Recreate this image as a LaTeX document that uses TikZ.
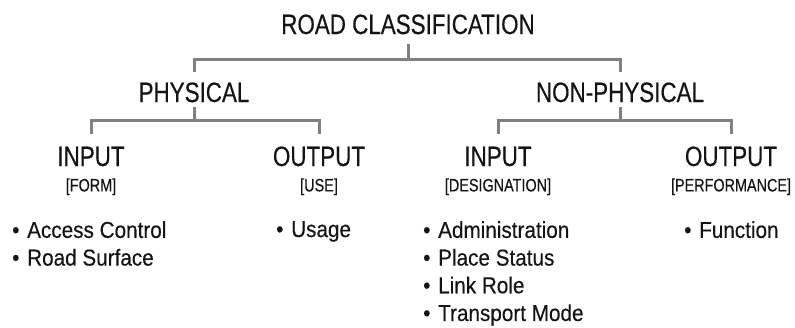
\documentclass[tikz,border=0pt]{standalone}
\usepackage{fontspec}
\newfontfamily\headfont[FakeStretch=0.8, FakeBold=0.3]{Liberation Sans}
\newfontfamily\itemfont[FakeStretch=0.9, FakeBold=0.3]{Liberation Sans}
\usepackage{tikz}
\usetikzlibrary{positioning}

\definecolor{branchgray}{RGB}{128,128,128}
\definecolor{inkblack}{RGB}{20,20,20}

\tikzset{
  heading/.style={text=inkblack, inner sep=0pt, text height=20pt, text depth=0pt,
    font=\headfont\fontsize{28}{30}\selectfont},
  sublabel/.style={text=inkblack, inner sep=0pt, text height=13pt, text depth=4pt,
    font=\headfont\fontsize{18}{20}\selectfont},
  itemlist/.style={text=inkblack, inner sep=0pt, align=left, anchor=north west,
    font=\itemfont\fontsize{23}{27.7}\selectfont},
  branch/.style={draw=branchgray, line width=3pt}
}
\newcommand{\bul}{\makebox[15pt][l]{•}}

\begin{document}
\begin{tikzpicture}[x=1pt, y=-1pt]
        \useasboundingbox (0,0) rectangle (795,327);
        \node[heading, anchor=base] (root) at (408,34) {ROAD CLASSIFICATION};
        \node[heading, anchor=base] (phys) at (194,102) {PHYSICAL};
        \node[heading, anchor=base] (nonphys) at (620,102) {NON-PHYSICAL};
        \node[heading, anchor=base] (physin) at (91,166) {INPUT};
        \node[heading, anchor=base] (physout) at (319,166) {OUTPUT};
        \node[heading, anchor=base] (npin) at (498,166) {INPUT};
        \node[heading, anchor=base] (npout) at (731,166) {OUTPUT};
        \node[sublabel, below=12pt of physin] (form) {[FORM]};
        \node[sublabel, below=12pt of physout] (use) {[USE]};
        \node[sublabel, below=12pt of npin] (desig) {[DESIGNATION]};
        \node[sublabel, below=12pt of npout] (perf) {[PERFORMANCE]};
        \node[itemlist] (formlist) at (12,221) {\bul Access Control\\\bul Road Surface};
        \node[itemlist] (uselist) at (276,221) {\bul Usage};
        \node[itemlist] (desiglist) at (423,221) {\bul Administration\\\bul Place Status\\\bul Link Role\\\bul Transport Mode};
        \node[itemlist] (perflist) at (684,221) {\bul Function};
        \coordinate (rootjoin) at ([yshift=-25pt]root.base);
        \coordinate (physjoin) at ([yshift=-18pt]phys.base);
        \coordinate (npjoin) at ([yshift=-18pt]nonphys.base);
        \draw[branch, shorten <=10pt] (root.south) -- (rootjoin);
        \draw[branch, shorten <=10pt, shorten >=10pt] (phys.north) |- (rootjoin) -| (nonphys.north);
        \draw[branch, shorten <=5pt] (phys.south) -- (physjoin);
        \draw[branch, shorten <=12pt, shorten >=12pt] (physin.north) |- (physjoin) -| (physout.north);
        \draw[branch, shorten <=5pt] (nonphys.south) -- (npjoin);
        \draw[branch, shorten <=12pt, shorten >=12pt] (npin.north) |- (npjoin) -| (npout.north);
        \end{tikzpicture}
\end{document}
